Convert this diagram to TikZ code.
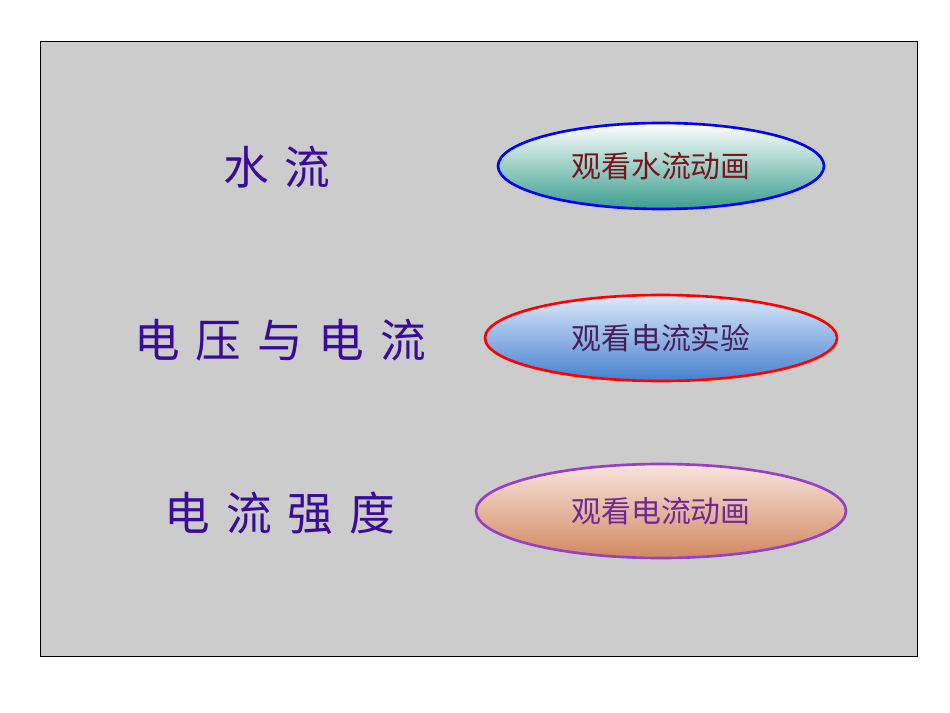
\documentclass[tikz,border=0pt]{standalone}
\usepackage{fontspec}
\newfontfamily\cjk{Noto Sans CJK SC}
\usetikzlibrary{shapes.geometric}
\definecolor{bg}{HTML}{CCCCCC}
\definecolor{ttl}{HTML}{3A0A9A}
\tikzset{
 ttlbox/.style={font=\cjk\fontsize{26}{30}\selectfont, text=ttl, inner sep=0pt},
 btn/.style={ellipse, line width=1.5pt, inner sep=0pt, font=\cjk\fontsize{17}{20}\selectfont}
}
\newcommand{\gp}{\hspace{9pt}}
\begin{document}
\begin{tikzpicture}[x=0.02cm,y=-0.02cm]
\useasboundingbox (0,0) rectangle (950,713);
\fill[white] (0,0) rectangle (950,713);
\draw[fill=bg, draw=black, line width=0.4pt] (40,41) rectangle (917,656);
\node[ttlbox] (t1) at (277,167) {水\gp 流};
\node[ttlbox] (t2) at (280,340) {电\gp 压\gp 与\gp 电\gp 流};
\node[ttlbox] (t3) at (280,513) {电\gp 流\gp 强\gp 度};
\node[btn, draw=blue, top color=white, bottom color={rgb,255:red,58;green,158;blue,142}, minimum width=326*0.02cm, minimum height=86*0.02cm, text={rgb,255:red,120;green,20;blue,30}] (b1) at (661,166) {观看水流动画};
\node[btn, draw=red, top color={rgb,255:red,220;green,234;blue,250}, bottom color={rgb,255:red,70;green,128;blue,208}, minimum width=352*0.02cm, minimum height=86*0.02cm, text={rgb,255:red,70;green,30;blue,90}] (b2) at (661,338) {观看电流实验};
\node[btn, draw={rgb,255:red,150;green,64;blue,200}, top color={rgb,255:red,248;green,228;blue,222}, bottom color={rgb,255:red,210;green,136;blue,96}, minimum width=370*0.02cm, minimum height=94*0.02cm, text={rgb,255:red,110;green,40;blue,150}] (b3) at (661,511) {观看电流动画};
\end{tikzpicture}
\end{document}
